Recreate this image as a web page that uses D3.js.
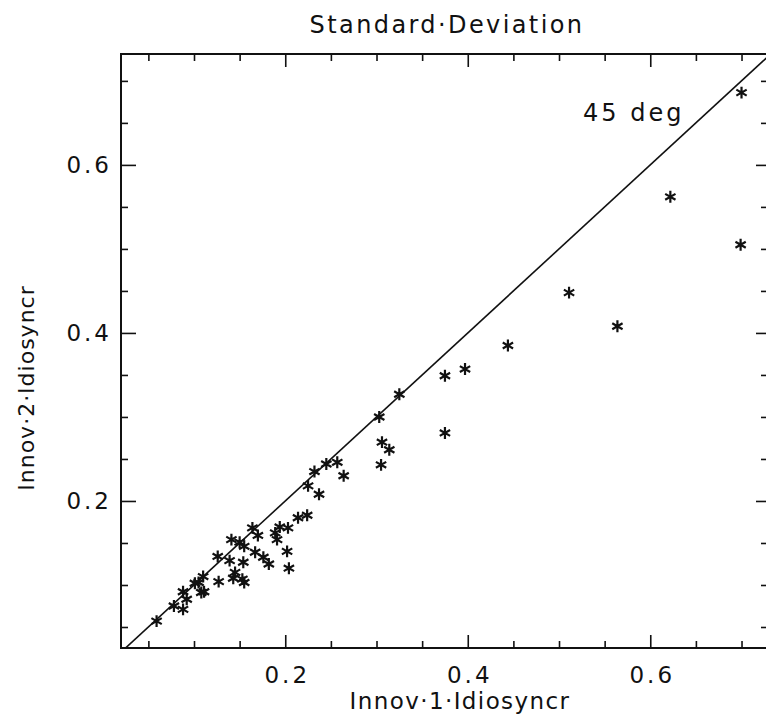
<!DOCTYPE html>
<html>
<head>
<meta charset="utf-8">
<script src="https://cdn.jsdelivr.net/npm/d3@7"></script>
<style>
  body { margin: 0; background: #fff; overflow: hidden; }
  svg { display: block; }
  text { font-family: "DejaVu Sans", sans-serif; fill: #111; }
</style>
</head>
<body>
<svg id="chart" width="766" height="721"></svg>
<script>
// Standard deviation scatter: innovation 1 vs innovation 2 idiosyncratic parts.

var innov1 = [0.700, 0.622, 0.699, 0.511, 0.564, 0.444, 0.397, 0.375, 0.375, 0.325,
              0.303, 0.306, 0.314, 0.305, 0.257, 0.245, 0.264, 0.232, 0.225, 0.237,
              0.224, 0.214, 0.203, 0.194, 0.189, 0.191, 0.202, 0.204, 0.164, 0.170,
              0.150, 0.141, 0.155, 0.167, 0.176, 0.182, 0.154, 0.139, 0.126, 0.145,
              0.143, 0.153, 0.155, 0.127, 0.110, 0.105, 0.111, 0.108, 0.101, 0.088,
              0.092, 0.078, 0.088, 0.059];
var innov2 = [0.686, 0.562, 0.505, 0.448, 0.408, 0.385, 0.357, 0.349, 0.281, 0.327,
              0.300, 0.270, 0.261, 0.243, 0.246, 0.244, 0.230, 0.235, 0.218, 0.208,
              0.183, 0.180, 0.168, 0.169, 0.162, 0.154, 0.140, 0.120, 0.168, 0.159,
              0.151, 0.154, 0.146, 0.139, 0.133, 0.125, 0.127, 0.129, 0.134, 0.115,
              0.108, 0.107, 0.103, 0.104, 0.110, 0.103, 0.092, 0.091, 0.102, 0.092,
              0.083, 0.075, 0.071, 0.057];

var xDomain = [0.02, 0.7334];
var yDomain = [0.025, 0.732];
var majorTicks = [0.2, 0.4, 0.6];
var minorTicks = [0.05, 0.1, 0.15, 0.25, 0.3, 0.35, 0.45, 0.5, 0.55, 0.65, 0.7];

var titleText = "Standard\u00b7Deviation";
var xLabel = "Innov\u00b71\u00b7Idiosyncr";
var yLabel = "Innov\u00b72\u00b7Idiosyncr";
var refLabel = "45 deg";

// right edge of the frame falls just outside the picture
var plotL = 121, plotR = 772, plotT = 54, plotB = 648;

var svg = d3.select("#chart");

var x = d3.scaleLinear().domain(xDomain).range([plotL, plotR]);
var y = d3.scaleLinear().domain(yDomain).range([plotB, plotT]);

// frame
svg.append("rect")
    .attr("x", plotL).attr("y", plotT)
    .attr("width", plotR - plotL).attr("height", plotB - plotT)
    .attr("fill", "none").attr("stroke", "#111").attr("stroke-width", 2);

function styleAxis (g) {
    g.select(".domain").remove();
    g.selectAll(".tick line").attr("stroke", "#111").attr("stroke-width", 1.6);
}

// bottom axis, ticks point inward
svg.append("g").attr("transform", "translate(0," + plotB + ")")
    .call(d3.axisBottom(x).tickValues(majorTicks).tickSize(-13).tickPadding(35)
        .tickFormat(d3.format(".1f")))
    .call(styleAxis)
    .call(g => g.selectAll("text").attr("font-size", 23).attr("letter-spacing", 3)
        .attr("dx", 1.5).attr("dy", 0));
svg.append("g").attr("transform", "translate(0," + plotB + ")")
    .call(d3.axisBottom(x).tickValues(minorTicks).tickSize(-7).tickFormat(""))
    .call(styleAxis);

// top axis
svg.append("g").attr("transform", "translate(0," + plotT + ")")
    .call(d3.axisTop(x).tickValues(majorTicks).tickSize(-13).tickFormat(""))
    .call(styleAxis);
svg.append("g").attr("transform", "translate(0," + plotT + ")")
    .call(d3.axisTop(x).tickValues(minorTicks).tickSize(-7).tickFormat(""))
    .call(styleAxis);

// left axis
svg.append("g").attr("transform", "translate(" + plotL + ",0)")
    .call(d3.axisLeft(y).tickValues(majorTicks).tickSize(-15).tickPadding(12)
        .tickFormat(d3.format(".1f")))
    .call(styleAxis)
    .call(g => g.selectAll("text").attr("font-size", 23).attr("letter-spacing", 3)
        .attr("x", -9));
svg.append("g").attr("transform", "translate(" + plotL + ",0)")
    .call(d3.axisLeft(y).tickValues(minorTicks).tickSize(-7).tickFormat(""))
    .call(styleAxis);

// right axis
svg.append("g").attr("transform", "translate(" + plotR + ",0)")
    .call(d3.axisRight(y).tickValues(majorTicks).tickSize(-16).tickFormat(""))
    .call(styleAxis);
svg.append("g").attr("transform", "translate(" + plotR + ",0)")
    .call(d3.axisRight(y).tickValues(minorTicks).tickSize(-11).tickFormat(""))
    .call(styleAxis);

// clip for the 45 degree line
svg.append("clipPath").attr("id", "plotClip")
  .append("rect")
    .attr("x", plotL).attr("y", plotT)
    .attr("width", plotR - plotL).attr("height", plotB - plotT);

var lo = Math.max(xDomain[0], yDomain[0]) - 0.05;
var hi = Math.max(xDomain[1], yDomain[1]) + 0.05;
svg.append("line")
    .attr("clip-path", "url(#plotClip)")
    .attr("x1", x(lo)).attr("y1", y(lo))
    .attr("x2", x(hi)).attr("y2", y(hi))
    .attr("stroke", "#111").attr("stroke-width", 1.6);

// asterisk points
var star = d3.symbol().type(d3.symbolAsterisk).size(100);
svg.append("g").selectAll("path")
    .data(innov1.map((v, i) => [v, innov2[i]]))
    .join("path")
    .attr("d", star)
    .attr("transform", d => "translate(" + x(d[0]) + "," + y(d[1]) + ")")
    .attr("fill", "none").attr("stroke", "#111").attr("stroke-width", 2.2);

// text
svg.append("text")
    .attr("x", 447).attr("y", 33)
    .attr("text-anchor", "middle").attr("font-size", 24).attr("letter-spacing", 2.4)
    .text(titleText);

svg.append("text")
    .attr("x", 460).attr("y", 709)
    .attr("text-anchor", "middle").attr("font-size", 23).attr("letter-spacing", 1.4)
    .text(xLabel);

svg.append("text")
    .attr("transform", "translate(34,388) rotate(-90)")
    .attr("text-anchor", "middle").attr("font-size", 22).attr("letter-spacing", 1)
    .text(yLabel);

svg.append("text")
    .attr("x", 583).attr("y", 121)
    .attr("font-size", 24).attr("letter-spacing", 3)
    .text(refLabel);
</script>
</body>
</html>
